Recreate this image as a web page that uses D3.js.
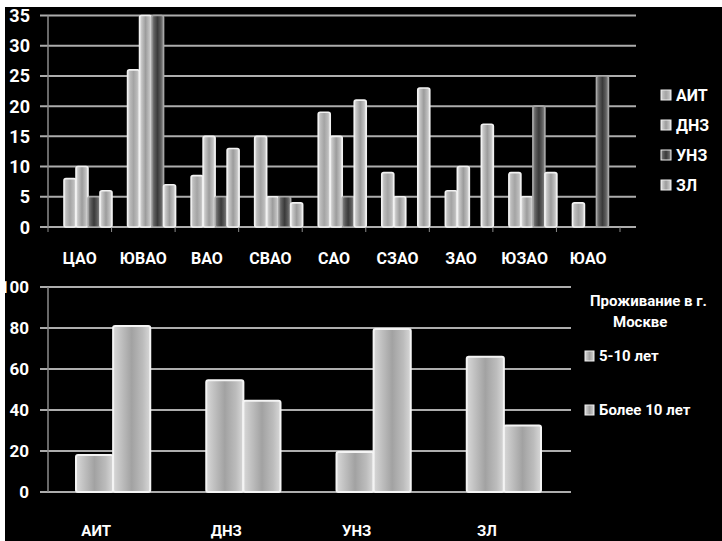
<!DOCTYPE html>
<html>
<head>
<meta charset="utf-8">
<script src="https://cdn.jsdelivr.net/npm/d3@7"></script>
<style>
  html, body { margin: 0; padding: 0; background: #000; }
  svg { display: block; }
  text { font-family: Roboto, "Open Sans", "DejaVu Sans", sans-serif; font-weight: 700; fill: #fff; }
</style>
</head>
<body>
<svg id="chart" width="722" height="541"></svg>
<script>
// ---------- Top chart data ----------
const districts = ['ЦАО', 'ЮВАО', 'ВАО', 'СВАО', 'САО', 'СЗАО', 'ЗАО', 'ЮЗАО', 'ЮАО'];
const groups = ['АИТ', 'ДНЗ', 'УНЗ', 'ЗЛ'];
const aitValues = [8, 26, 8.5, 15, 19, 9, 6, 9, 4];
const dnzValues = [10, 35, 15, 5, 15, 5, 10, 5, 0];
const unzValues = [5, 35, 5, 5, 5, 0, 0, 20, 25];
const zlValues = [6, 7, 13, 4, 21, 23, 17, 9, 0];
const topTicks = [0, 5, 10, 15, 20, 25, 30, 35];

// ---------- Bottom chart data ----------
const residenceCats = ['АИТ', 'ДНЗ', 'УНЗ', 'ЗЛ'];
const residenceSeries = ['5-10 лет', 'Более 10 лет'];
const years5to10 = [18, 54.5, 19.5, 66];
const over10Years = [81, 44.5, 79.5, 32.5];
const bottomTicks = [0, 20, 40, 60, 80, 100];
const legendTitle = ['Проживание в г.', 'Москве'];

const svg = d3.select('#chart');
svg.append('rect').attr('width', 722).attr('height', 541).attr('fill', '#000');

// gradients (cylinder look)
const defs = svg.append('defs');
function grad(id, stops) {
  const g = defs.append('linearGradient').attr('id', id).attr('x1', 0).attr('x2', 1).attr('y1', 0).attr('y2', 0);
  stops.forEach(s => g.append('stop').attr('offset', s[0]).attr('stop-color', s[1]));
}
grad('cylLight', [[0, '#e6e6e6'], [0.18, '#c4c4c4'], [0.5, '#9c9c9c'], [0.82, '#c0c0c0'], [1, '#e6e6e6']]);
grad('cylLight2', [[0, '#dcdcdc'], [0.2, '#bbbbbb'], [0.5, '#a4a4a4'], [0.8, '#bbbbbb'], [1, '#dcdcdc']]);
grad('cylDark', [[0, '#8a8a8a'], [0.25, '#5a5a5a'], [0.5, '#3a3a3a'], [0.75, '#5a5a5a'], [1, '#8a8a8a']]);
grad('cylBottom', [[0, '#d8d8d8'], [0.2, '#c2c2c2'], [0.5, '#a2a2a2'], [0.8, '#bcbcbc'], [1, '#d8d8d8']]);

const seriesFill = { 'АИТ': 'url(#cylLight2)', 'ДНЗ': 'url(#cylLight)', 'УНЗ': 'url(#cylDark)', 'ЗЛ': 'url(#cylLight)' };
const seriesStroke = { 'АИТ': '#f2f2f2', 'ДНЗ': '#f2f2f2', 'УНЗ': '#a8a8a8', 'ЗЛ': '#f2f2f2' };
const seriesValues = { 'АИТ': aitValues, 'ДНЗ': dnzValues, 'УНЗ': unzValues, 'ЗЛ': zlValues };

// ================= TOP CHART =================
const topG = svg.append('g');
const x0 = d3.scaleBand().domain(districts).range([48, 620]);
const x1 = d3.scaleBand().domain(groups).range([0, 48]);
const barShift = 16;
const yT = d3.scaleLinear().domain([0, 35]).range([227, 15.5]);

topG.selectAll('line.grid').data(topTicks).join('line')
  .attr('x1', 40).attr('x2', 636)
  .attr('y1', d => yT(d)).attr('y2', d => yT(d))
  .attr('stroke', '#adadad').attr('stroke-width', 2);
topG.append('line').attr('x1', 48).attr('x2', 48).attr('y1', yT(35)).attr('y2', yT(0))
  .attr('stroke', '#8c8c8c').attr('stroke-width', 1.5);
topG.selectAll('line.ctick').data(districts.concat(['end'])).join('line')
  .attr('x1', (d, i) => 48 + i * x0.step()).attr('x2', (d, i) => 48 + i * x0.step())
  .attr('y1', yT(0)).attr('y2', yT(0) + 5)
  .attr('stroke', '#8c8c8c').attr('stroke-width', 1);
topG.selectAll('text.yl').data(topTicks).join('text')
  .attr('x', 30).attr('y', d => yT(d)).attr('text-anchor', 'end')
  .attr('dominant-baseline', 'central').attr('font-size', 18).text(d => d);
topG.selectAll('text.xl').data(districts).join('text')
  .attr('x', d => x0(d) + x0.bandwidth() / 2).attr('y', 258)
  .attr('text-anchor', 'middle').attr('dominant-baseline', 'central')
  .attr('font-size', 16).text(d => d);
const topData = [];
districts.forEach((d, i) => groups.forEach(g => topData.push({ d, g, v: seriesValues[g][i] })));
topG.selectAll('rect.bar').data(topData.filter(e => e.v > 0)).join('rect')
  .attr('x', e => x0(e.d) + barShift + x1(e.g))
  .attr('width', x1.bandwidth())
  .attr('y', e => yT(e.v)).attr('height', e => yT(0) - yT(e.v))
  .attr('rx', 2)
  .attr('fill', e => seriesFill[e.g])
  .attr('stroke', e => seriesStroke[e.g]).attr('stroke-width', 1.6);
const legT = topG.selectAll('g.leg').data(groups).join('g')
  .attr('transform', (g, i) => `translate(661, ${95 + i * 30})`);
legT.append('rect').attr('x', 0).attr('y', -5).attr('width', 10).attr('height', 10)
  .attr('fill', g => seriesFill[g]).attr('stroke', '#eee').attr('stroke-width', 1);
legT.append('text').attr('x', 15).attr('y', 0).attr('dominant-baseline', 'central')
  .attr('font-size', 16).text(g => g);

// ================= BOTTOM CHART =================
const botG = svg.append('g');
const xb = d3.scaleBand().domain(residenceCats).range([48, 569]).paddingInner(0.43).paddingOuter(0.215);
const xb1 = d3.scaleBand().domain(residenceSeries).range([0, xb.bandwidth()]);
const yB = d3.scaleLinear().domain([0, 100]).range([492, 287]);
const labelShift = -17;

botG.selectAll('line.grid').data(bottomTicks).join('line')
  .attr('x1', 40).attr('x2', 571)
  .attr('y1', d => yB(d)).attr('y2', d => yB(d))
  .attr('stroke', '#adadad').attr('stroke-width', 2);
botG.append('line').attr('x1', 48).attr('x2', 48).attr('y1', yB(100)).attr('y2', yB(0))
  .attr('stroke', '#8c8c8c').attr('stroke-width', 1.5);
botG.selectAll('text.yl').data(bottomTicks).join('text')
  .attr('x', 29).attr('y', d => yB(d)).attr('text-anchor', 'end')
  .attr('dominant-baseline', 'central').attr('font-size', 17).text(d => d);
botG.selectAll('text.xl').data(residenceCats).join('text')
  .attr('x', d => xb(d) + xb.bandwidth() / 2 + labelShift).attr('y', 531)
  .attr('text-anchor', 'middle').attr('dominant-baseline', 'central')
  .attr('font-size', 15).text(d => d);
const botData = [];
residenceCats.forEach((c, i) => {
  botData.push({ c, s: residenceSeries[0], v: years5to10[i] });
  botData.push({ c, s: residenceSeries[1], v: over10Years[i] });
});
botG.selectAll('rect.bar').data(botData).join('rect')
  .attr('x', e => xb(e.c) + xb1(e.s)).attr('width', xb1.bandwidth())
  .attr('y', e => yB(e.v)).attr('height', e => yB(0) - yB(e.v))
  .attr('rx', 2)
  .attr('fill', 'url(#cylBottom)').attr('stroke', '#f4f4f4').attr('stroke-width', 2);
botG.append('text').attr('x', 590).attr('y', 301).attr('dominant-baseline', 'central')
  .attr('font-size', 15).text(legendTitle[0]);
botG.append('text').attr('x', 613).attr('y', 322).attr('dominant-baseline', 'central')
  .attr('font-size', 15).text(legendTitle[1]);
const legB = botG.selectAll('g.leg').data(residenceSeries).join('g')
  .attr('transform', (s, i) => `translate(585, ${i === 0 ? 356 : 410})`);
legB.append('rect').attr('x', 0).attr('y', -5).attr('width', 9).attr('height', 10)
  .attr('fill', 'url(#cylBottom)').attr('stroke', '#eee').attr('stroke-width', 1);
legB.append('text').attr('x', 14).attr('y', 0).attr('dominant-baseline', 'central')
  .attr('font-size', 15).text(s => s);

// white frame edges of the original picture
svg.append('rect').attr('x', 0).attr('y', 0).attr('width', 722).attr('height', 7).attr('fill', '#fff');
svg.append('rect').attr('x', 0).attr('y', 0).attr('width', 5).attr('height', 541).attr('fill', '#fff');
</script>
</body>
</html>
